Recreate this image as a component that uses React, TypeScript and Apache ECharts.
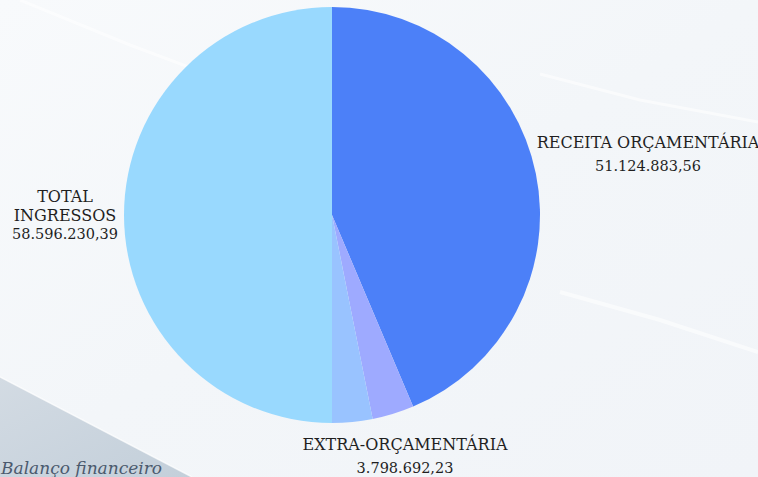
import React, { useEffect, useRef } from "react";
import * as echarts from "echarts";

// ---- data ----
const categories: string[] = ["RECEITA ORÇAMENTÁRIA", "EXTRA-ORÇAMENTÁRIA", "", "TOTAL INGRESSOS"];
const values: number[] = [51124883.56, 3798692.23, 3672654.6, 58596230.39];
const footerText = "Balanço financeiro";

// ---- styles ----
const sliceColors = ["#4c80f8", "#9eaaff", "#99c3ff", "#99d9fe"];
const labelCenters: (number[] | null)[] = [[648, 154], [405, 456], null, [65, 215]];
const labelLineHeights = [23, 24, 0, 19];
const wrapName = [false, false, false, true];
const SERIF = "DejaVu Serif";
const W = 758;
const H = 477;

function fmt(v: number): string {
  const [i, d] = v.toFixed(2).split(".");
  return i.replace(/\B(?=(\d{3})+(?!\d))/g, ".") + "," + d;
}

export default function App() {
  const ref = useRef<HTMLDivElement>(null);
  useEffect(() => {
    if (!ref.current) return;
    const chart = echarts.init(ref.current, undefined, { renderer: "svg" });
    const data = categories.map((name, i) => ({
      name,
      value: values[i],
      itemStyle: { color: sliceColors[i] },
      label:
        labelCenters[i] === null
          ? { show: false }
          : {
              show: true,
              overflow: "none",
              lineHeight: labelLineHeights[i],
              rich: {
                n: { fontFamily: SERIF, fontSize: 16, color: "#1f1f1f", lineHeight: labelLineHeights[i] },
                v: { fontFamily: SERIF, fontSize: 14.5, color: "#1f1f1f", lineHeight: labelLineHeights[i] },
              },
            },
      labelLine: { show: false },
    }));
    chart.setOption({
      animation: false,
      backgroundColor: "#f3f6f9",
      textStyle: { fontFamily: SERIF },
      graphic: [
        {
          type: "rect",
          silent: true,
          z: -10,
          shape: { x: 0, y: 0, width: W, height: H },
          style: {
            fill: new echarts.graphic.LinearGradient(0, 0, 1, 1, [
              { offset: 0, color: "#f8fafc" },
              { offset: 0.5, color: "#f3f6f9" },
              { offset: 1, color: "#f1f4f8" },
            ]),
          },
        },
        {
          type: "polyline",
          silent: true,
          z: -9,
          shape: { points: [[20, 0], [130, 45], [330, 120]] },
          style: { stroke: "#ffffff", lineWidth: 3, opacity: 0.55, fill: "none" },
        },
        {
          type: "polyline",
          silent: true,
          z: -9,
          shape: { points: [[540, 74], [640, 100], [758, 122]] },
          style: { stroke: "#ffffff", lineWidth: 3, opacity: 0.55, fill: "none" },
        },
        {
          type: "polyline",
          silent: true,
          z: -9,
          shape: { points: [[560, 292], [660, 320], [758, 352]] },
          style: { stroke: "#ffffff", lineWidth: 4, opacity: 0.55, fill: "none" },
        },
        {
          type: "polygon",
          silent: true,
          z: -8,
          shape: { points: [[0, 377], [192, 477], [0, 477]] },
          style: {
            fill: new echarts.graphic.LinearGradient(0, 0, 1, 1, [
              { offset: 0, color: "#d3dbe3" },
              { offset: 1, color: "#c3cfda" },
            ]),
          },
        },
        {
          type: "line",
          silent: true,
          z: -7,
          shape: { x1: 0, y1: 377, x2: 192, y2: 477 },
          style: { stroke: "#ffffff", lineWidth: 1.5, opacity: 0.7 },
        },
        {
          type: "text",
          silent: true,
          z: -6,
          x: 1,
          y: 476,
          style: {
            text: footerText,
            align: "left",
            verticalAlign: "bottom",
            fontFamily: SERIF,
            fontStyle: "italic",
            fontSize: 17,
            fill: "#4b5a6e",
          },
        },
      ],
      series: [
        {
          type: "pie",
          center: [332, 215],
          radius: 208,
          startAngle: 90,
          silent: true,
          emphasis: { disabled: true },
          label: {
            show: true,
            position: "outside",
            overflow: "none",
            formatter: (p: any) => {
              const nm = wrapName[p.dataIndex] ? p.name.split(" ").join("}\n{n|") : p.name;
              return `{n|${nm}}\n{v|${fmt(p.value)}}`;
            },
            fontFamily: SERIF,
            fontSize: 16,
            color: "#1f1f1f",
            align: "center",
          },
          labelLine: { show: false },
          labelLayout: (params: any) => {
            const c = labelCenters[params.dataIndex];
            if (!c) return {};
            return { x: c[0], y: c[1], align: "center", verticalAlign: "middle" };
          },
          data,
        },
      ],
    });
    return () => chart.dispose();
  }, []);
  return (
    <div
      ref={ref}
      style={{ position: "absolute", left: 0, top: 0, width: W, height: H }}
    />
  );
}
